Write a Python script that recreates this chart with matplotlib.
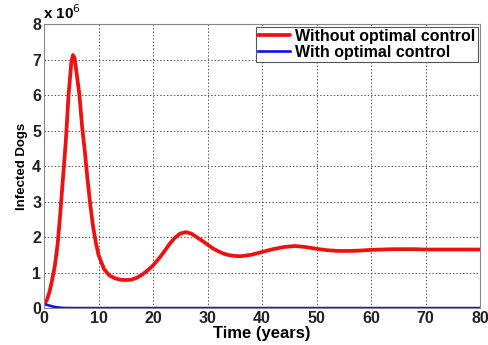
import matplotlib
matplotlib.use("Agg")
import matplotlib.pyplot as plt

plt.rcParams['font.family'] = ['Liberation Sans', 'DejaVu Sans']

t_red = [0, 0.5, 1, 1.5, 2, 2.5, 3, 3.5, 4, 4.5, 5, 5.3, 5.6, 6, 6.5, 7, 7.5, 8, 8.5, 9, 9.5, 10,
         11, 12, 13, 14, 15, 16, 17, 18, 19, 20, 21, 22, 23, 24, 25, 26, 27, 28, 29, 30, 31, 32,
         33, 34, 35, 36, 38, 40, 42, 44, 46, 48, 50, 52, 54, 56, 58, 60, 62, 64, 66, 68, 70, 75, 80]
without_control = [0.1, 0.22, 0.45, 0.8, 1.2, 1.8, 2.7, 3.7, 4.7, 6.0, 6.9, 7.13, 7.05, 6.6, 6.0,
                   5.1, 4.4, 3.6, 2.9, 2.3, 1.85, 1.5, 1.1, 0.92, 0.84, 0.8, 0.79, 0.8, 0.85, 0.94,
                   1.06, 1.2, 1.38, 1.58, 1.8, 1.98, 2.1, 2.14, 2.1, 2.0, 1.9, 1.79, 1.68, 1.6, 1.53,
                   1.49, 1.47, 1.46, 1.5, 1.58, 1.66, 1.72, 1.75, 1.72, 1.67, 1.63, 1.61, 1.61, 1.62,
                   1.64, 1.65, 1.66, 1.66, 1.66, 1.65, 1.65, 1.65]
t_blue = [0, 1, 2, 3, 4, 6, 80]
with_control = [0.12, 0.07, 0.03, 0.01, 0.003, 0.0, 0.0]

scale = 1e6
xticks = [0, 10, 20, 30, 40, 50, 60, 70, 80]
yticks = [0, 1, 2, 3, 4, 5, 6, 7, 8]

fig = plt.figure(figsize=(4.89, 3.45), dpi=100)
ax = fig.add_axes([0.09, 0.107, 0.8916, 0.823])

ax.plot(t_red, [v * scale for v in without_control], color='#ee1111', lw=2.7,
        label='Without optimal control', solid_capstyle='round')
ax.plot(t_blue, [v * scale for v in with_control], color='#1010e8', lw=1.9,
        label='With optimal control')

ax.set_xlim(0, 80)
ax.set_ylim(0, 8 * scale)
ax.set_xticks(xticks)
ax.set_yticks([y * scale for y in yticks])
ax.set_yticklabels([str(y) for y in yticks])
ax.grid(True, linestyle=(0, (1.5, 2)), color='#555555', lw=0.7)
for s in ax.spines.values():
    s.set_color('#888888')
ax.tick_params(direction='in', length=0, labelsize=11.5, pad=2, colors='#222222')
for lab in ax.get_xticklabels() + ax.get_yticklabels():
    lab.set_fontweight('bold')

ax.set_xlabel('Time (years)', fontsize=12, fontweight='bold', labelpad=0)
ax.set_ylabel('Infected Dogs', fontsize=9.5, fontweight='bold', labelpad=3)
fig.text(0.09 - 0.002, 0.935, r'x 10$^{6}$', fontsize=11, fontweight='bold', ha='left', va='bottom')

leg = ax.legend(loc='upper right', prop={'weight': 'bold', 'size': 11.5},
                fancybox=False, edgecolor='#555555', framealpha=1, borderpad=0.15,
                handlelength=2.0, handletextpad=0.3, labelspacing=0.05, borderaxespad=0.15)
leg.get_frame().set_linewidth(0.8)

fig.savefig('out.png', dpi=100)
